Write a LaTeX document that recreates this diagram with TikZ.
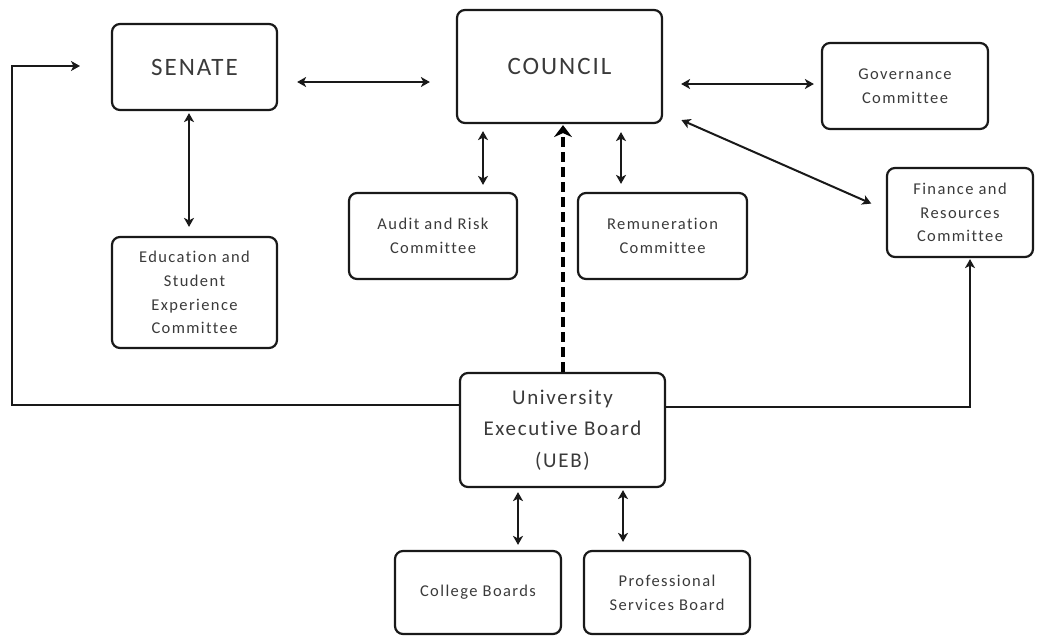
\documentclass[tikz,border=0pt]{standalone}
\usepackage{fontspec}
\setmainfont{Carlito}
\newfontfamily\boxfont[LetterSpace=8.5,Ligatures={NoCommon}]{Carlito}
\newfontfamily\headfont[LetterSpace=8,Ligatures={NoCommon}]{Carlito}
\usetikzlibrary{arrows.meta,calc}
\definecolor{txt}{HTML}{3A3A3A}
\tikzset{
  box/.style={draw=black!90, line width=2.2pt, rounded corners=8pt, align=center,
    text=txt, inner sep=0pt, minimum width=#1},
  box/.default=166pt,
  small/.style={font=\boxfont\fontsize{16.5}{23.8}\selectfont},
  big/.style={font=\headfont\fontsize{25}{30}\selectfont},
  mid/.style={font=\headfont\fontsize{21}{31.5}\selectfont},
  tip/.style={Stealth[length=9pt,width=10pt,inset=2.5pt]},
  link/.style={line width=2pt, draw=black!90},
  both/.style={link, {Stealth[length=9pt,width=10pt,inset=2.5pt]}-{Stealth[length=9pt,width=10pt,inset=2.5pt]}},
  oneway/.style={link, -{Stealth[length=9pt,width=10pt,inset=2.5pt]}},
  report/.style={line width=3.6pt, draw=black, dash pattern=on 10pt off 5pt,
    -{Stealth[length=12pt,width=18pt,inset=4pt]}}
}
\begin{document}
\begin{tikzpicture}[x=1pt,y=-1pt]
\useasboundingbox (0,0) rectangle (1044,635);

% boxes
\node[box=165pt, minimum height=86pt, big] (senate) at (194.5,67) {SENATE};
\node[box=205pt, minimum height=113pt, big] (council) at (559.5,66.5) {COUNCIL};
\node[box=166pt, minimum height=86pt, small] (gov) at (905,86) {Governance\\Committee};
\node[box=146pt, minimum height=89pt, small] (fin) at (960,212.5) {Finance and\\Resources\\Committee};
\node[box=168pt, minimum height=86pt, small] (audit) at (433,236) {Audit and Risk\\Committee};
\node[box=169pt, minimum height=86pt, small] (remun) at (662.5,236) {Remuneration\\Committee};
\node[box=165pt, minimum height=111pt, small] (edu) at (194.5,292.5) {Education and\\Student\\Experience\\Committee};
\node[box=205pt, minimum height=114pt, mid] (ueb) at (562.5,430) {University\\Executive Board\\(UEB)};
\node[box=166pt, minimum height=83pt, small] (college) at (478,592.5) {College Boards};
\node[box=166pt, minimum height=83pt, small] (prof) at (667,592.5) {Professional\\Services Board};

% guide coordinates for connector rows and columns
\coordinate (r82) at (0,82);
\coordinate (r84) at (0,84);
\coordinate (r112) at (0,112);
\coordinate (r210) at (0,210);
\coordinate (c189) at (189,0);
\coordinate (c483) at (483,0);
\coordinate (c621) at (621,0);
\coordinate (c563) at (563,0);
\coordinate (c518) at (518,0);
\coordinate (c623) at (623,0);
\coordinate (lb) at (12,405);
\coordinate (lt) at (12,66);
\coordinate (lend) at (80,66);
\coordinate (rb) at (970,407);

% two-way links
\draw[both, shorten <=19pt, shorten >=26pt] (senate.east |- r82) -- (council.west |- r82);
\draw[both, shorten <=18pt, shorten >=7pt] (council.east |- r84) -- (gov.west |- r84);
\draw[both, shorten <=20pt, shorten >=16pt] (council.east |- r112) -- (fin.west |- r210);
\draw[both, shorten <=2pt, shorten >=9pt] (senate.south -| c189) -- (edu.north -| c189);
\draw[both, shorten <=7pt, shorten >=7pt] (council.south -| c483) -- (audit.north -| c483);
\draw[both, shorten <=8pt, shorten >=8pt] (council.south -| c621) -- (remun.north -| c621);
\draw[both, shorten <=4pt, shorten >=5pt] (ueb.south -| c518) -- (college.north -| c518);
\draw[both, shorten <=2pt, shorten >=8pt] (ueb.south -| c623) -- (prof.north -| c623);

% UEB reports to Council
\draw[report, shorten >=1pt] (ueb.north -| c563) -- (council.south -| c563);

% UEB to Senate and to Finance and Resources
\draw[oneway] (ueb.west |- lb) -- (lb) -- (lt) -- (lend);
\draw[oneway, shorten >=1pt] (ueb.east |- rb) -- (rb) -- (rb |- fin.south);
\end{tikzpicture}
\end{document}
